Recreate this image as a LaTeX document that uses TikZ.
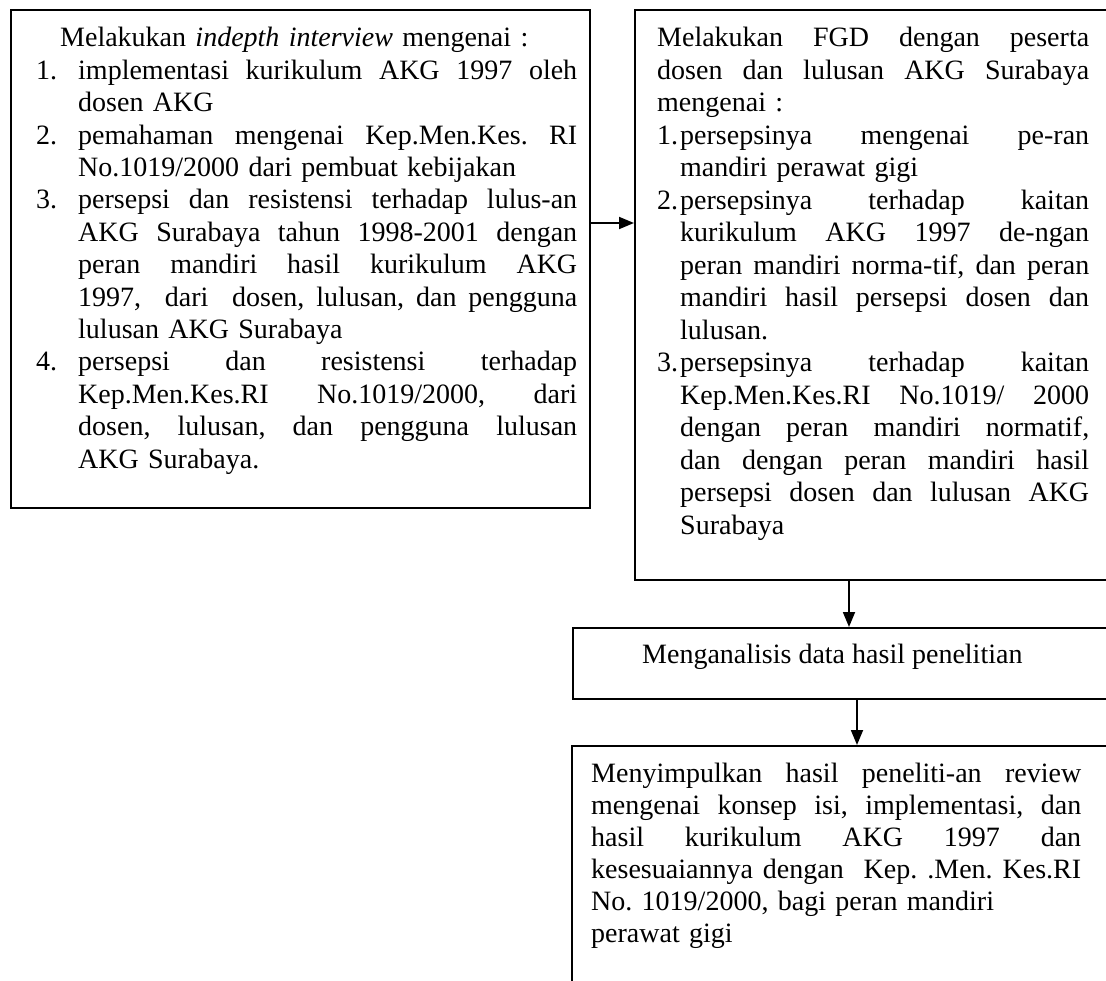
\documentclass[tikz,border=0pt]{standalone}
\usepackage{fontspec}
\setmainfont{Liberation Serif}
\usetikzlibrary{arrows.meta}
\newcommand\jbox[1]{\hbox to \hsize{\spaceskip=\fontdimen2\font plus 1fil\relax #1}}
\newcommand\jfull[1]{\noindent\jbox{#1}\par}
\newcommand\jitem[3]{\noindent\jbox{\hbox to #1{#2\hfil}#3}\par}
\newcommand\jcont[2]{\noindent\jbox{\hspace*{#1}#2}\par}
\newcommand\rcont[2]{\noindent\hbox to \hsize{\hspace*{#1}#2\hfil}\par}
\newcommand\txtsetup[1]{\fontsize{28}{#1}\selectfont\setlength\parskip{0pt}\frenchspacing}
\begin{document}
\begin{tikzpicture}[x=1pt,y=-1pt,
  frame/.style={draw,line width=2.3pt,inner sep=0pt,anchor=north west},
  txt/.style={inner sep=0pt,anchor=base west,font=\fontsize{28}{32.5}\selectfont},
  arr/.style={line width=1.8pt,-{Triangle[length=15pt,width=12pt]}}]
\useasboundingbox (0,0) rectangle (1106,981);
\clip (0,0) rectangle (1106,981);
% frames
\node[frame,minimum width=579pt,minimum height=498pt] (b1) at (10,9) {};
\node[frame,minimum width=500pt,minimum height=570pt] (b2) at (634,9) {};
\node[frame,minimum width=560pt,minimum height=71pt] (b3) at (572,627) {};
\node[frame,minimum width=560pt,minimum height=290pt] (b4) at (571,745) {};
% texts
\node[txt,text width=541pt] (t1) at (36,47) {%
\txtsetup{32.4}%
\rcont{24pt}{Melakukan \textit{indepth interview} mengenai :}
\jitem{42pt}{1.}{implementasi kurikulum AKG 1997 oleh}
\rcont{42pt}{dosen AKG}
\jitem{42pt}{2.}{pemahaman mengenai Kep.Men.Kes. RI}
\rcont{42pt}{No.1019/2000 dari pembuat kebijakan}
\jitem{42pt}{3.}{persepsi dan resistensi terhadap lulus-an}
\jcont{42pt}{AKG Surabaya tahun 1998-2001 dengan}
\jcont{42pt}{peran mandiri hasil kurikulum AKG}
\jcont{42pt}{1997,\ \ dari\ \ dosen, lulusan, dan pengguna}
\rcont{42pt}{lulusan AKG Surabaya}
\jitem{42pt}{4.}{persepsi dan resistensi terhadap}
\jcont{42pt}{Kep.Men.Kes.RI No.1019/2000, dari}
\jcont{42pt}{dosen, lulusan, dan pengguna lulusan}
\rcont{42pt}{AKG Surabaya.}
};
\node[txt,text width=432pt] (t2) at (657,47) {%
\txtsetup{32.5}%
\jfull{Melakukan FGD dengan peserta}
\jfull{dosen dan lulusan AKG Surabaya}
\rcont{0pt}{mengenai :}
\jitem{23pt}{1.}{persepsinya mengenai pe-ran}
\rcont{23pt}{mandiri perawat gigi}
\jitem{23pt}{2.}{persepsinya terhadap kaitan}
\jcont{23pt}{kurikulum AKG 1997 de-ngan}
\jcont{23pt}{peran mandiri norma-tif, dan peran}
\jcont{23pt}{mandiri hasil persepsi dosen dan}
\rcont{23pt}{lulusan.}
\jitem{23pt}{3.}{persepsinya terhadap kaitan}
\jcont{23pt}{Kep.Men.Kes.RI No.1019/ 2000}
\jcont{23pt}{dengan peran mandiri normatif,}
\jcont{23pt}{dan dengan peran mandiri hasil}
\jcont{23pt}{persepsi dosen dan lulusan AKG}
\rcont{23pt}{Surabaya}
};
\node[txt] (t3) at (642,663) {Menganalisis data hasil penelitian};
\node[txt,text width=490pt] (t4) at (591,782) {%
\txtsetup{32}%
\jfull{Menyimpulkan hasil peneliti-an review}
\jfull{mengenai konsep isi, implementasi, dan}
\jfull{hasil kurikulum AKG 1997 dan}
\jfull{kesesuaiannya dengan\ \ Kep. .Men. Kes.RI}
\rcont{0pt}{No. 1019/2000, bagi peran mandiri}
\rcont{0pt}{perawat gigi}
};
% connectors
\coordinate (y1) at (0,223);
\coordinate (x2) at (849,0);
\coordinate (x3) at (857,0);
\draw[arr] (b1.east |- y1) -- (b2.west |- y1);
\draw[arr] (b2.south -| x2) -- (b3.north -| x2);
\draw[arr] (b3.south -| x3) -- (b4.north -| x3);
\end{tikzpicture}
\end{document}
